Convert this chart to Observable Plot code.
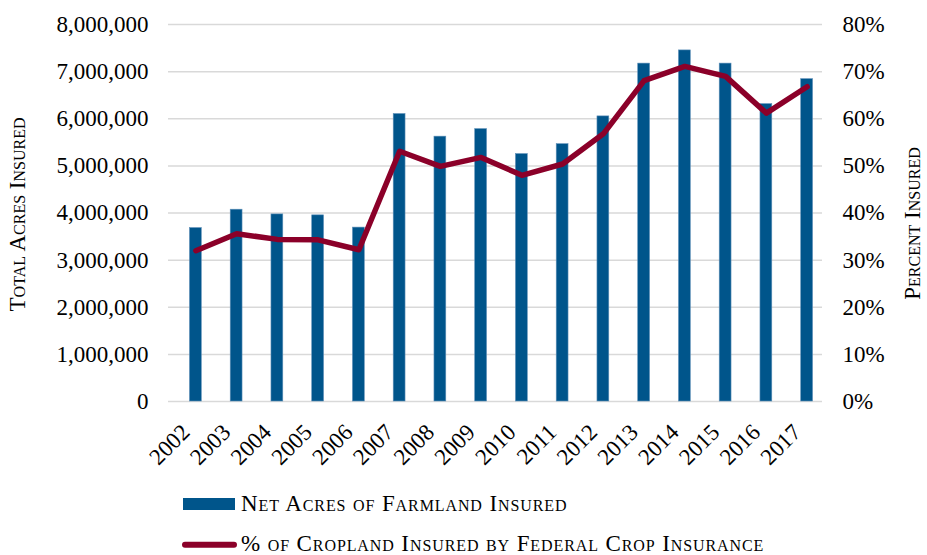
<!DOCTYPE html>
<html>
<head>
<meta charset="utf-8">
<script src="https://cdn.jsdelivr.net/npm/d3@7"></script>
<script src="https://cdn.jsdelivr.net/npm/@observablehq/plot@0.6"></script>
<style>
  body { margin: 0; background: white; }
  #wrap { width: 927px; height: 555px; position: relative; overflow: hidden; background: white; }
  #wrap svg { display: block; }
</style>
</head>
<body>
<div id="wrap"></div>
<script>
const years = ["2002","2003","2004","2005","2006","2007","2008","2009","2010","2011","2012","2013","2014","2015","2016","2017"];
const acres = [3680000, 4070000, 3970000, 3950000, 3690000, 6100000, 5620000, 5780000, 5250000, 5460000, 6050000, 7170000, 7450000, 7170000, 6310000, 6840000];
const pctInsured = [32.0, 35.6, 34.4, 34.3, 32.2, 53.1, 49.9, 51.8, 48.0, 50.4, 56.8, 68.1, 71.1, 69.0, 61.2, 66.8];
const leftTicks = [0, 1000000, 2000000, 3000000, 4000000, 5000000, 6000000, 7000000, 8000000];
const rightTickLabels = ["0%","10%","20%","30%","40%","50%","60%","70%","80%"];
const seriesNames = ["Net Acres of Farmland Insured", "% of Cropland Insured by Federal Crop Insurance"];
const axisTitles = ["Total Acres Insured", "Percent Insured"];

const BLUE = "#00558B";
const RED = "#8B0029";
const FONT = "'Liberation Serif', 'DejaVu Serif', serif";

const data = years.map((y, i) => ({year: y, acres: acres[i], pct: pctInsured[i]}));
// right axis maps 0–80% onto 0–8,000,000
const pctToY = p => p * 100000;

const chart = Plot.plot({
  width: 927,
  height: 478,
  marginLeft: 175,
  marginRight: 100,
  marginTop: 24,
  marginBottom: 77,
  x: {domain: years, paddingInner: 0.71, paddingOuter: 0.355, round: false, label: null},
  y: {domain: [0, 8000000], label: null},
  style: {fontFamily: FONT, fontSize: "23px", color: "#000", background: "white", overflow: "visible"},
  marks: [
    Plot.ruleY(leftTicks, {stroke: "#d9d9d9", strokeWidth: 1.5, insetLeft: -7, insetRight: 5}),
    Plot.barY(data, {x: "year", y: "acres", fill: BLUE, stroke: "#5d8fb8", strokeWidth: 0.6}),
    Plot.lineY(data, {x: "year", y: d => pctToY(d.pct), stroke: RED, strokeWidth: 5.5, strokeLinejoin: "round", strokeLinecap: "round"}),
    Plot.axisY({ticks: leftTicks, tickSize: 0, tickPadding: 27, tickFormat: d3.format(","), label: null}),
    Plot.axisY({anchor: "right", ticks: leftTicks, tickSize: 0, tickPadding: 15, tickFormat: d => rightTickLabels[leftTicks.indexOf(d)], label: null}),
    Plot.axisX({tickSize: 0, tickRotate: -45, tickPadding: 8, dx: -10, dy: 19, label: null}),
    Plot.text([axisTitles[0]], {text: d => d, frameAnchor: "left", dx: -158, dy: 1.5, rotate: -90, textAnchor: "middle", lineAnchor: "middle", fontSize: 23, fontVariant: "small-caps", fill: "#000", letterSpacing: 0.8}),
    Plot.text([axisTitles[1]], {text: d => d, frameAnchor: "right", dx: 85, dy: 10.5, rotate: -90, textAnchor: "middle", lineAnchor: "middle", fontSize: 23, fontVariant: "small-caps", fill: "#000", letterSpacing: 1.4})
  ]
});

const wrap = document.getElementById("wrap");
wrap.appendChild(chart);

// legend below the chart
const ns = "http://www.w3.org/2000/svg";
const leg = document.createElementNS(ns, "svg");
leg.setAttribute("width", 927);
leg.setAttribute("height", 77);
leg.style.fontFamily = FONT;
const rect = document.createElementNS(ns, "rect");
rect.setAttribute("x", 183); rect.setAttribute("y", 20);
rect.setAttribute("width", 52); rect.setAttribute("height", 12);
rect.setAttribute("fill", BLUE);
leg.appendChild(rect);
const ln = document.createElementNS(ns, "line");
ln.setAttribute("x1", 185); ln.setAttribute("x2", 234);
ln.setAttribute("y1", 66.7); ln.setAttribute("y2", 66.7);
ln.setAttribute("stroke", RED); ln.setAttribute("stroke-width", 6);
ln.setAttribute("stroke-linecap", "round");
leg.appendChild(ln);
[[seriesNames[0], 33, 0.9], [seriesNames[1], 72.7, 0.9]].forEach(([t, y, ls]) => {
  const tx = document.createElementNS(ns, "text");
  tx.setAttribute("x", 241); tx.setAttribute("y", y);
  tx.setAttribute("font-size", 23);
  tx.setAttribute("font-variant", "small-caps");
  tx.setAttribute("letter-spacing", ls);
  tx.setAttribute("fill", "#000");
  tx.textContent = t;
  leg.appendChild(tx);
});
wrap.appendChild(leg);
</script>
</body>
</html>
